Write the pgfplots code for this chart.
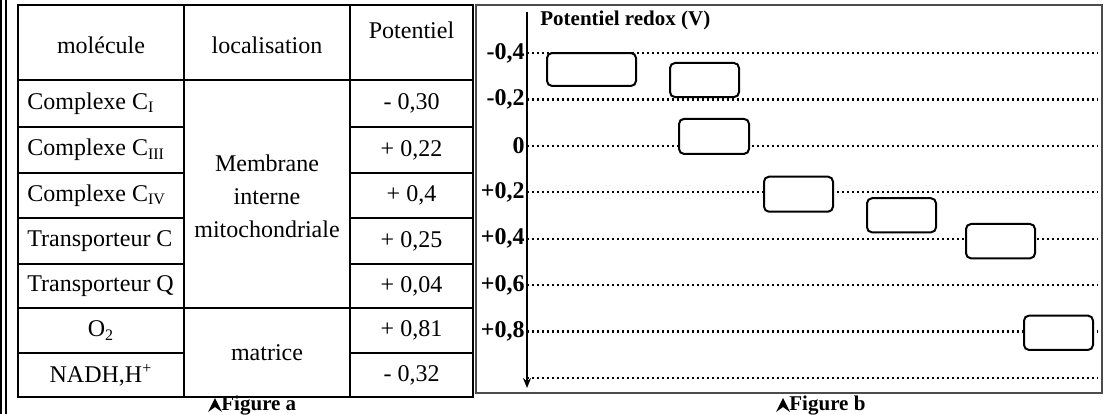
\documentclass[border=0pt]{standalone}
\usepackage{fontspec}
\setmainfont{Liberation Serif}
\usepackage{pgfplots}
\pgfplotsset{compat=1.18}
\usetikzlibrary{arrows.meta}

\begin{document}
\begin{tikzpicture}
\begin{scope}[x=0.5pt,y=-0.5pt]
\path[use as bounding box] (0,0) rectangle (1106,414);
% double left rule
\draw[line width=1pt] (1.2,0) -- (1.2,414);
\draw[line width=1pt] (6.3,0) -- (6.3,414);
% table frame
\draw[line width=1pt] (18,5) rectangle (473,397);
\draw[line width=1pt] (184,5) -- (184,397) (350,5) -- (350,397);
\draw[line width=1pt] (18,80) -- (473,80) (18,308) -- (473,308);
\foreach \yy in {127,173,218,264,353} {\draw[line width=1pt] (18,\yy) -- (184,\yy) (350,\yy) -- (473,\yy);}
\begin{scope}[every node/.style={inner sep=0pt, font=\fontsize{12}{16.5}\selectfont}]
\node at (101,45) {molécule};
\node at (267,45) {localisation};
\node at (411.5,30) {Potentiel};
\node[anchor=west] at (27,103.5) {Complexe C\textsubscript{I}};
\node[anchor=west] at (27,150) {Complexe C\textsubscript{III}};
\node[anchor=west] at (27,195.5) {Complexe C\textsubscript{IV}};
\node[anchor=west] at (27,241) {Transporteur C};
\node[anchor=west] at (27,286) {Transporteur Q};
\node at (101,330.5) {O\textsubscript{2}};
\node at (101,375) {NADH,H\textsuperscript{+}};
\node[align=center] at (267,196) {Membrane\\interne\\mitochondriale};
\node at (267,353) {matrice};
\node at (411.5,103.5) {- 0,30};
\node at (411.5,150) {+ 0,22};
\node at (411.5,195.5) {+ 0,4};
\node at (411.5,241) {+ 0,25};
\node at (411.5,286) {+ 0,04};
\node at (411.5,330.5) {+ 0,81};
\node at (411.5,375) {- 0,32};
\end{scope}
% figure b frame
\draw[line width=0.9pt, black!70] (476,5) rectangle (1102,393);
% captions
\fill (208,412) -- (215,398) -- (222,412) -- (215,407) -- cycle;
\node[anchor=base west, inner sep=0pt, font=\bfseries\fontsize{10.5}{12}\selectfont] at (221,410) {Figure a};
\fill (776,412) -- (783,398) -- (790,412) -- (783,407) -- cycle;
\node[anchor=base west, inner sep=0pt, font=\bfseries\fontsize{10.5}{12}\selectfont] at (789,410) {Figure b};
\node[anchor=west, inner sep=0pt, font=\bfseries\fontsize{10.5}{12}\selectfont] at (540,20) {Potentiel redox (V)};
\coordinate (axc) at (812.5,200);
\end{scope}
\begin{axis}[
  at={(axc)}, anchor=center,
  scale only axis, width=285.5pt, height=188pt,
  xmin=527, xmax=1098, ymin=-0.5767, ymax=1.044, y dir=reverse,
  axis x line=none, axis y line=left,
  y axis line style={line width=1pt, -{Stealth[length=5pt,width=4pt]}},
  ytick={-0.4,-0.2,0,0.2,0.4,0.6,0.8,1.0},
  yticklabels={{-0,4},{-0,2},{0},{+0,2},{+0,4},{+0,6},{+0,8},{}},
  yticklabel style={font=\bfseries\fontsize{12}{12}\selectfont, inner sep=1pt, anchor=east},
  major tick length=0pt,
  ymajorgrids,
  major grid style={black, line width=1.1pt, dash pattern=on 1.1pt off 1.4pt},
]
\addplot[black, line width=1pt, fill=white, rounded corners=2.5pt, mark=none] coordinates {(591.5,-0.4) (636,-0.4) (636,-0.258) (547,-0.258) (547,-0.4)} -- cycle;
\addplot[black, line width=1pt, fill=white, rounded corners=2.5pt, mark=none] coordinates {(704.5,-0.357) (739,-0.357) (739,-0.21) (670,-0.21) (670,-0.357)} -- cycle;
\addplot[black, line width=1pt, fill=white, rounded corners=2.5pt, mark=none] coordinates {(714,-0.116) (749,-0.116) (749,0.035) (679,0.035) (679,-0.116)} -- cycle;
\addplot[black, line width=1pt, fill=white, rounded corners=2.5pt, mark=none] coordinates {(798.5,0.133) (833,0.133) (833,0.284) (764,0.284) (764,0.133)} -- cycle;
\addplot[black, line width=1pt, fill=white, rounded corners=2.5pt, mark=none] coordinates {(901.5,0.226) (936,0.226) (936,0.373) (867,0.373) (867,0.226)} -- cycle;
\addplot[black, line width=1pt, fill=white, rounded corners=2.5pt, mark=none] coordinates {(1000.5,0.337) (1035,0.337) (1035,0.485) (966,0.485) (966,0.337)} -- cycle;
\addplot[black, line width=1pt, fill=white, rounded corners=2.5pt, mark=none] coordinates {(1058.5,0.732) (1093,0.732) (1093,0.88) (1024,0.88) (1024,0.732)} -- cycle;
\end{axis}
\end{tikzpicture}
\end{document}
